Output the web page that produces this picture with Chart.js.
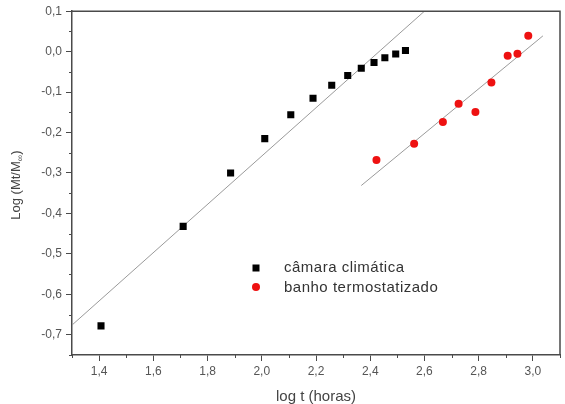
<!DOCTYPE html>
<html>
<head>
<meta charset="utf-8">
<script src="https://cdn.jsdelivr.net/npm/chart.js@4.4.0/dist/chart.umd.min.js"></script>
<style>
  html, body { margin: 0; padding: 0; background: #fff; }
  #wrap { width: 565px; height: 404px; }
</style>
</head>
<body>
<div id="wrap"><canvas id="chart"></canvas></div>
<script>
// câmara climática (black squares)
const camaraX = [1.407, 1.710, 1.885, 2.011, 2.107, 2.189, 2.258, 2.317, 2.367, 2.414, 2.454, 2.494, 2.530];
const camaraY = [-0.678, -0.432, -0.300, -0.215, -0.156, -0.115, -0.083, -0.059, -0.041, -0.027, -0.015, -0.006, 0.003];
// banho termostatizado (red circles)
const banhoX = [2.423, 2.562, 2.668, 2.726, 2.788, 2.847, 2.907, 2.943, 2.983];
const banhoY = [-0.268, -0.228, -0.174, -0.129, -0.149, -0.076, -0.010, -0.005, 0.039];
// fitted straight lines (end points)
const fitCamaraX = [1.3, 2.6];
const fitCamaraY = [-0.676, 0.100];
const fitBanhoX = [2.367, 3.037];
const fitBanhoY = [-0.331, 0.039];

const xTicks = [1.4, 1.6, 1.8, 2.0, 2.2, 2.4, 2.6, 2.8, 3.0];
const yTicks = [-0.7, -0.6, -0.5, -0.4, -0.3, -0.2, -0.1, 0.0, 0.1];
const xMinor = [1.3, 1.5, 1.7, 1.9, 2.1, 2.3, 2.5, 2.7, 2.9, 3.1];
const yMinor = [-0.75, -0.65, -0.55, -0.45, -0.35, -0.25, -0.15, -0.05, 0.05];

const legendLabels = ['câmara climática', 'banho termostatizado'];
const yTitle = ['Log (Mt/M', '\u221E', ')'];
const xTitle = 'log t (horas)';

const FONT = '"Liberation Sans", Arial, sans-serif';
const AXIS = '#4a4a4a';

function toPoints(xs, ys) {
    return xs.map((x, i) => ({ x: x, y: ys[i] }));
}
function fmt(v) {
    return v.toFixed(1).replace('.', ',');
}

// box, minor ticks, y title and legend
const extras = {
    id: 'extras',
    afterDraw(chart) {
        const ctx = chart.ctx;
        const a = chart.chartArea;
        const xs = chart.scales.x, ys = chart.scales.y;
        ctx.save();
        ctx.strokeStyle = AXIS;
        ctx.lineWidth = 1.5;
        ctx.beginPath();
        ctx.moveTo(a.left, a.top);
        ctx.lineTo(a.right, a.top);
        ctx.lineTo(a.right, a.bottom);
        ctx.stroke();

        ctx.lineWidth = 1;
        ctx.beginPath();
        xMinor.forEach(v => {
            const px = Math.round(xs.getPixelForValue(v)) + 0.5;
            ctx.moveTo(px, a.bottom);
            ctx.lineTo(px, a.bottom + 3);
        });
        yMinor.forEach(v => {
            const py = Math.round(ys.getPixelForValue(v)) + 0.5;
            ctx.moveTo(a.left, py);
            ctx.lineTo(a.left - 3, py);
        });
        ctx.stroke();

        // y title with subscript
        ctx.fillStyle = '#444';
        ctx.translate(16, (a.top + a.bottom) / 2 + 2);
        ctx.rotate(-Math.PI / 2);
        const big = '13px ' + FONT, small = '9px ' + FONT;
        ctx.font = big;
        const w0 = ctx.measureText(yTitle[0]).width;
        const w2 = ctx.measureText(yTitle[2]).width;
        ctx.font = small;
        const w1 = ctx.measureText(yTitle[1]).width;
        let x0 = -(w0 + w1 + w2) / 2;
        ctx.textBaseline = 'middle';
        ctx.font = big;
        ctx.fillText(yTitle[0], x0, 0);
        ctx.font = small;
        ctx.fillText(yTitle[1], x0 + w0, 5);
        ctx.font = big;
        ctx.fillText(yTitle[2], x0 + w0 + w1, 0);
        ctx.restore();

        // legend
        ctx.save();
        ctx.font = '15px ' + FONT;
        ctx.letterSpacing = '0.5px';
        ctx.textBaseline = 'middle';
        ctx.fillStyle = '#000';
        ctx.fillRect(252.5, 264.5, 7, 7);
        ctx.fillStyle = '#ee1111';
        ctx.beginPath();
        ctx.arc(256, 287, 4, 0, Math.PI * 2);
        ctx.fill();
        ctx.fillStyle = '#333';
        ctx.fillText(legendLabels[0], 284, 268);
        ctx.fillText(legendLabels[1], 284, 288);
        ctx.restore();
    }
};

new Chart(document.getElementById('chart'), {
    type: 'scatter',
    data: {
        datasets: [
            {
                label: legendLabels[0],
                data: toPoints(camaraX, camaraY),
                pointStyle: 'rect',
                pointRadius: 5,
                backgroundColor: '#000',
                borderColor: '#000',
                borderWidth: 0,
                order: 1
            },
            {
                label: legendLabels[1],
                data: toPoints(banhoX, banhoY),
                pointStyle: 'circle',
                pointRadius: 4,
                backgroundColor: '#ee1111',
                borderColor: '#ee1111',
                borderWidth: 0,
                order: 1
            },
            {
                label: 'fit 1',
                data: toPoints(fitCamaraX, fitCamaraY),
                showLine: true,
                pointRadius: 0,
                borderColor: '#9a9a9a',
                borderWidth: 1,
                order: 2
            },
            {
                label: 'fit 2',
                data: toPoints(fitBanhoX, fitBanhoY),
                showLine: true,
                pointRadius: 0,
                borderColor: '#9a9a9a',
                borderWidth: 1,
                order: 2
            }
        ]
    },
    options: {
        responsive: true,
        maintainAspectRatio: false,
        animation: false,
        layout: { padding: { top: 5, right: 5, left: 0, bottom: 0 } },
        plugins: {
            legend: { display: false },
            tooltip: { enabled: false }
        },
        scales: {
            x: {
                type: 'linear',
                min: 1.3,
                max: 3.1,
                afterBuildTicks: s => { s.ticks = xTicks.map(v => ({ value: v })); },
                afterFit: s => { s.height = 49; },
                grid: { drawOnChartArea: false, tickLength: 6, tickColor: AXIS, tickWidth: 1 },
                border: { color: AXIS, width: 1.5 },
                ticks: {
                    color: '#555',
                    font: { family: FONT, size: 12 },
                    padding: 3,
                    maxRotation: 0,
                    callback: v => fmt(v)
                },
                title: {
                    display: true,
                    text: xTitle,
                    color: '#444',
                    font: { family: FONT, size: 15 },
                    padding: { top: 0, bottom: -2 }
                }
            },
            y: {
                type: 'linear',
                min: -0.75,
                max: 0.1,
                afterBuildTicks: s => { s.ticks = yTicks.map(v => ({ value: v })); },
                afterFit: s => { s.width = 72; },
                grid: { drawOnChartArea: false, tickLength: 6, tickColor: AXIS, tickWidth: 1 },
                border: { color: AXIS, width: 1.5 },
                ticks: {
                    color: '#555',
                    font: { family: FONT, size: 12 },
                    padding: 4,
                    callback: v => fmt(v)
                }
            }
        }
    },
    plugins: [extras]
});
</script>
</body>
</html>
